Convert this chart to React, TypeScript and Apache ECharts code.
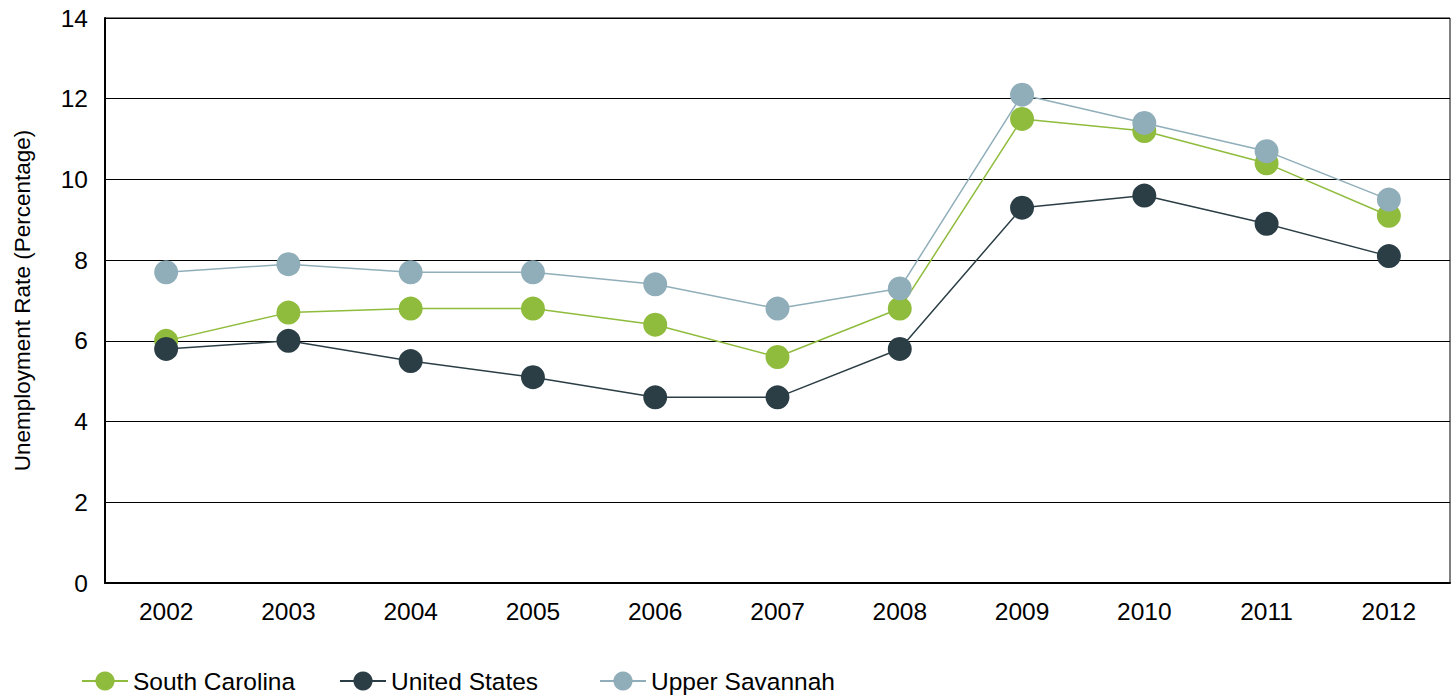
import React, { useEffect, useRef } from "react";
import * as echarts from "echarts";

const years = ["2002", "2003", "2004", "2005", "2006", "2007", "2008", "2009", "2010", "2011", "2012"];
const southCarolina = [6.0, 6.7, 6.8, 6.8, 6.4, 5.6, 6.8, 11.5, 11.2, 10.4, 9.1];
const unitedStates = [5.8, 6.0, 5.5, 5.1, 4.6, 4.6, 5.8, 9.3, 9.6, 8.9, 8.1];
const upperSavannah = [7.7, 7.9, 7.7, 7.7, 7.4, 6.8, 7.3, 12.1, 11.4, 10.7, 9.5];
const seriesNames = ["South Carolina", "United States", "Upper Savannah"];

const FONT = "Liberation Sans, Arial, sans-serif";

export default function App() {
  const ref = useRef<HTMLDivElement>(null);
  useEffect(() => {
    if (!ref.current) return;
    const chart = echarts.init(ref.current, null, { renderer: "svg" });
    const mk = (name: string, data: number[], color: string) => ({
      name,
      type: "line",
      data,
      symbol: "circle",
      symbolSize: 24,
      itemStyle: { color },
      lineStyle: { color, width: 1.5 },
    });
    const legendLefts = [81, 339, 599];
    chart.setOption({
      animation: false,
      textStyle: { fontFamily: FONT },
      grid: {
        left: 105,
        right: 5,
        top: 18,
        bottom: 115,
        show: true,
        borderColor: "#000",
        borderWidth: 1,
        containLabel: false,
      },
      legend: seriesNames.map((n, i) => ({
        left: legendLefts[i],
        top: 668,
        padding: 0,
        itemWidth: 46,
        itemHeight: 24,
        itemGap: 0,
        textStyle: { fontSize: 24.5, lineHeight: 26, color: "#000", fontFamily: FONT },
        data: [n],
      })),
      xAxis: {
        type: "category",
        data: years,
        boundaryGap: true,
        axisLine: { lineStyle: { color: "#000", width: 2 } },
        axisTick: { show: false },
        axisLabel: { fontSize: 24.5, color: "#000", margin: 16, fontFamily: FONT },
      },
      yAxis: {
        type: "value",
        min: 0,
        max: 14,
        interval: 2,
        name: "Unemployment Rate (Percentage)",
        nameLocation: "middle",
        nameGap: 71,
        nameTextStyle: { fontSize: 22.5, color: "#000", fontFamily: FONT },
        axisLine: { show: true, lineStyle: { color: "#000", width: 2 } },
        axisTick: { show: false },
        axisLabel: { fontSize: 24.5, color: "#000", margin: 17, fontFamily: FONT },
        splitLine: { lineStyle: { color: "#000", width: 1 } },
      },
      series: [
        mk(seriesNames[0], southCarolina, "#8FBC3C"),
        mk(seriesNames[1], unitedStates, "#2B3E46"),
        mk(seriesNames[2], upperSavannah, "#90AEB9"),
      ],
    });
    return () => chart.dispose();
  }, []);
  return (
    <div
      ref={ref}
      style={{ position: "fixed", left: 0, top: 0, width: 1455, height: 698, background: "#fff" }}
    />
  );
}
